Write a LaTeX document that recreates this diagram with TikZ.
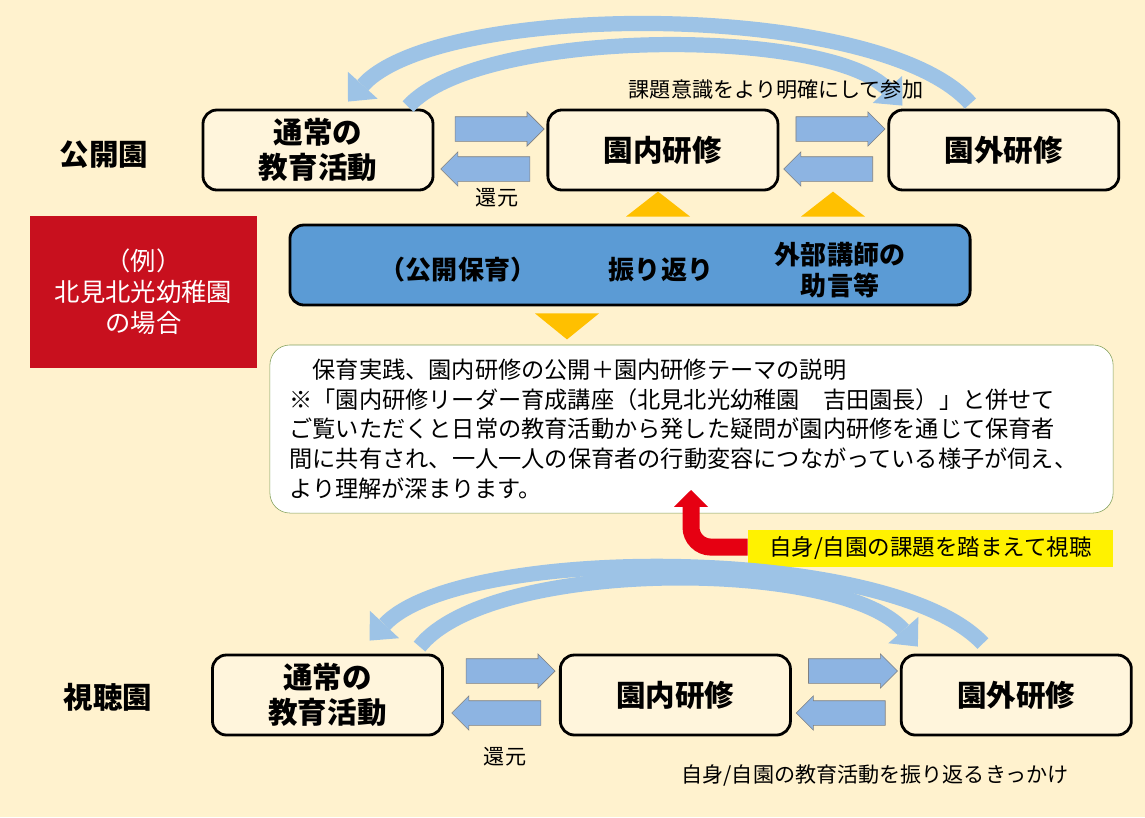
\documentclass[tikz,border=0pt]{standalone}
\usepackage{fontspec}
\setmainfont{Noto Sans CJK JP}
\usetikzlibrary{arrows.meta,positioning,calc,shapes.arrows}
\definecolor{bgcream}{RGB}{255,242,206}
\definecolor{boxcream}{RGB}{255,245,220}
\definecolor{arrblue}{RGB}{141,180,226}
\definecolor{arcblue}{RGB}{157,195,230}
\definecolor{midblue}{RGB}{91,155,213}
\definecolor{tgold}{RGB}{255,192,0}
\definecolor{exred}{RGB}{200,16,30}
\definecolor{bentred}{RGB}{230,0,18}
\definecolor{notegreen}{RGB}{130,160,90}

\begin{document}
\begin{tikzpicture}[x=0.025cm, y=-0.025cm,
    b/.style={draw=black, line width=2pt, rounded corners=0.35cm, fill=boxcream,
              minimum width=5.75cm, minimum height=2cm, inner sep=2pt, align=center,
              font=\fontsize{21}{25}\selectfont\bfseries},
    lbl/.style={font=\fontsize{21}{25}\selectfont\bfseries},
    rarr/.style={single arrow, draw=gray, thin, fill=arrblue, minimum height=2.225cm,
              inner xsep=0pt, inner ysep=0.3cm, single arrow head extend=0.12cm},
    larr/.style={rarr, shape border rotate=180},
    arc/.style={draw=arcblue, line width=0.38cm,
              -{Triangle[width=1cm 0 0, length=0.55cm 0 0, line width=0pt]}},
    small/.style={font=\fontsize{15}{18}\selectfont},
    bt/.style={font=\fontsize{18.5}{22}\selectfont\bfseries, align=center},
    tri/.style={fill=tgold}]
\useasboundingbox (0,0) rectangle (1145,817);
\fill[bgcream] (0,0) rectangle (1145,817);
% top row
\node[lbl] (pub) at (104,155) {公開園};
\node[b] (ed1) at (318,150) {通常の\\教育活動};
\node[b, right=2.8cm of ed1] (in1) {園内研修};
\node[b, right=2.7cm of in1] (ex1) {園外研修};
\node[rarr] (a1) at ($(ed1.east)!0.5!(in1.west)+(3,-21)$) {};
\node[larr] (a2) at ($(ed1.east)!0.5!(in1.west)+(1,19)$) {};
\node[rarr] (a3) at ($(in1.east)!0.5!(ex1.west)+(1,-21)$) {};
\node[larr] (a4) at ($(in1.east)!0.5!(ex1.west)+(1,19)$) {};
\draw[arc] ($(ex1.north west)+(83,-5)$) .. controls (880,0) and (440,0) .. ($(ed1.north)+(30,-7)$);
\draw[arc] ($(ed1.north)+(90,-2)$) .. controls (480,27) and (830,27) .. ($(ex1.north west)+(15,-3)$);
\node[small] (ret1) at (497,198) {還元};
\node[small] (part) at (776,90) {課題意識をより明確にして参加};
% middle
\node[fill=exred, text=white, minimum width=5.675cm, minimum height=3.8cm, align=center,
      font=\fontsize{18}{22}\selectfont] (ex) at (143.5,292) {（例）\\北見北光幼稚園\\の場合};
\node[draw=black, line width=2pt, rounded corners=0.35cm, fill=midblue,
      minimum width=17cm, minimum height=2cm] (rev) at (630,265) {};
\node[bt] (r1) at (458,270) {（公開保育）};
\node[bt] (r2) at (661,270) {振り返り};
\node[bt] (r3) at (840,270) {外部講師の\\助言等};
\fill[tri] ($(rev.north)+(-4,-7)$) -- ++(32,-25) -- ++(32,25) -- cycle;
\fill[tri] ($(rev.north)+(171,-7)$) -- ++(32,-25) -- ++(32,25) -- cycle;
\fill[tri] ($(rev.south)+(-95,7)$) -- ++(32,26) -- ++(32,-26) -- cycle;
\node[draw=notegreen, thin, rounded corners=0.5cm, fill=white, minimum width=21.075cm,
      minimum height=4.2cm, text width=20.1cm, align=left,
      font=\fontsize{16.5}{21.2}\selectfont] (nt) at (691.5,429)
  {　保育実践、園内研修の公開＋園内研修テーマの説明\\
   ※「園内研修リーダー育成講座（北見北光幼稚園　吉田園長）」と併せて\\
   ご覧いただくと日常の教育活動から発した疑問が園内研修を通じて保育者\\
   間に共有され、一人一人の保育者の行動変容につながっている様子が伺え、\\
   より理解が深まります。};
\node[fill=yellow, minimum width=9.125cm, minimum height=0.925cm,
      font=\fontsize{16}{19}\selectfont] (vw) at (930.5,548.5) {自身/自園の課題を踏まえて視聴};
\coordinate (rtip) at (691,490);
\draw[bentred, line width=0.425cm, rounded corners=0.5cm,
      -{Triangle[width=0.85cm 0 0, length=0.42cm 0 0, line width=0pt]}]
  ([yshift=1]vw.west) -| (rtip);
% bottom row
\node[lbl] (aud) at (108,697) {視聴園};
\node[b] (ed2) at (327.5,695) {通常の\\教育活動};
\node[b, right=2.875cm of ed2] (in2) {園内研修};
\node[b, right=2.7cm of in2] (ex2) {園外研修};
\node[rarr] (b1) at ($(ed2.east)!0.5!(in2.west)+(3,-24)$) {};
\node[larr] (b2) at ($(ed2.east)!0.5!(in2.west)+(1,18)$) {};
\node[rarr] (b3) at ($(in2.east)!0.5!(ex2.west)+(1,-24)$) {};
\node[larr] (b4) at ($(in2.east)!0.5!(ex2.west)+(1,18)$) {};
\draw[arc] ($(ex2.north west)+(83,-10)$) .. controls (890,544) and (460,544) .. ($(ed2.north)+(42,-13)$);
\draw[arc] ($(ed2.north)+(92,-7)$) .. controls (490,558) and (840,558) .. ($(ex2.north west)+(18,-7)$);
\node[small] (ret2) at (505,757) {還元};
\node[small] (cue) at (875,775) {自身/自園の教育活動を振り返るきっかけ};
\end{tikzpicture}
\end{document}
